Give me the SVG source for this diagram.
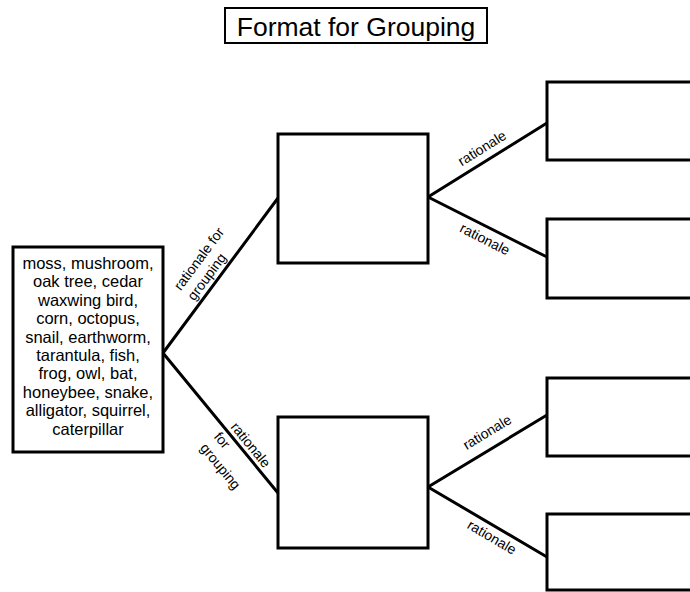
<svg xmlns="http://www.w3.org/2000/svg" width="690" height="592" viewBox="0 0 690 592">
  <style>
    .box { fill: #ffffff; stroke: #000000; stroke-width: 3; }
    .title-box { fill: #ffffff; stroke: #000000; stroke-width: 2; }
    .edge { fill: none; stroke: #000000; stroke-width: 3; stroke-linecap: round; }
    text { font-family: "Liberation Sans", Arial, Helvetica, sans-serif; fill: #000000; }
    .title { font-size: 26.5px; text-anchor: middle; }
    .items { font-size: 16.5px; text-anchor: middle; }
    .lbl { font-size: 14px; }
    .mid { text-anchor: middle; }
  </style>

  <!-- heading -->
  <g id="title">
    <rect class="title-box" x="225" y="8" width="262" height="35"/>
    <text class="title" x="356" y="35.5">Format for Grouping</text>
  </g>

  <!-- connectors -->
  <g id="connectors">
    <line class="edge" x1="163" y1="353" x2="278" y2="198"/>
    <line class="edge" x1="163" y1="353" x2="278" y2="493"/>
    <line class="edge" x1="428" y1="197" x2="547" y2="123"/>
    <line class="edge" x1="428" y1="197" x2="547" y2="257"/>
    <line class="edge" x1="428" y1="487" x2="547" y2="415"/>
    <line class="edge" x1="428" y1="487" x2="547" y2="557"/>

    <!-- connector labels -->
    <g transform="translate(215 272) rotate(-53.4)">
      <text class="lbl" x="-36" y="-16">rationale for</text>
      <text class="lbl" x="-36" y="1">grouping</text>
    </g>
    <g transform="translate(248 446) rotate(50.6)">
      <text class="lbl" x="-26" y="2">rationale</text>
      <text class="lbl" x="-29" y="21">for</text>
      <text class="lbl" x="-29" y="39">grouping</text>
    </g>
    <text class="lbl mid" transform="translate(482 148) rotate(-31.9)" y="5">rationale</text>
    <text class="lbl mid" transform="translate(485 239) rotate(26.8)" y="5">rationale</text>
    <text class="lbl mid" transform="translate(487 432) rotate(-31.2)" y="5">rationale</text>
    <text class="lbl mid" transform="translate(492 537) rotate(30.5)" y="5">rationale</text>
  </g>

  <!-- list of organisms -->
  <g id="organisms">
    <rect class="box" x="13" y="247" width="150" height="205"/>
    <text class="items" x="88" y="269">moss, mushroom,</text>
    <text class="items" x="88" y="287.4">oak tree, cedar</text>
    <text class="items" x="88" y="305.8">waxwing bird,</text>
    <text class="items" x="88" y="324.2">corn, octopus,</text>
    <text class="items" x="88" y="342.6">snail, earthworm,</text>
    <text class="items" x="88" y="361">tarantula, fish,</text>
    <text class="items" x="88" y="379.4">frog, owl, bat,</text>
    <text class="items" x="88" y="397.8">honeybee, snake,</text>
    <text class="items" x="88" y="416.2">alligator, squirrel,</text>
    <text class="items" x="88" y="434.6">caterpillar</text>
  </g>

  <!-- first-level groups -->
  <g id="group-a">
    <rect class="box" x="278" y="134" width="150" height="129"/>
  </g>
  <g id="group-b">
    <rect class="box" x="278" y="417" width="150" height="131"/>
  </g>

  <!-- second-level groups -->
  <g id="group-a1">
    <rect class="box" x="547" y="82" width="160" height="78"/>
  </g>
  <g id="group-a2">
    <rect class="box" x="547" y="219" width="160" height="79"/>
  </g>
  <g id="group-b1">
    <rect class="box" x="547" y="378" width="160" height="78"/>
  </g>
  <g id="group-b2">
    <rect class="box" x="547" y="514" width="160" height="76"/>
  </g>
</svg>
